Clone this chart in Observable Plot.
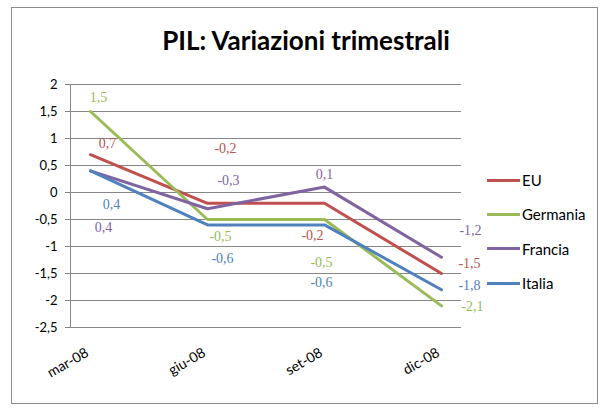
<!DOCTYPE html>
<html><head><meta charset="utf-8">
<script src="https://cdn.jsdelivr.net/npm/d3@7"></script>
<script src="https://cdn.jsdelivr.net/npm/@observablehq/plot@0.6"></script>
<style>
body{margin:0;background:#fff;}
#wrap{position:relative;width:605px;height:410px;overflow:hidden;background:#fff;}
#frame{position:absolute;left:11px;top:7px;width:587px;height:397px;border:1px solid #8c8c8c;box-sizing:border-box;}
#title{position:absolute;left:0;width:612px;top:24px;line-height:36px;text-align:center;font:bold 26px Lato,sans-serif;color:#000;}
#legend{position:absolute;left:487px;top:163px;}
.item{display:flex;align-items:center;height:34.3px;font:15px Lato,sans-serif;color:#000;}
.sw{width:33px;height:3px;margin-right:2px;}
#chart{position:absolute;left:0;top:0;}
</style></head>
<body>
<div id="wrap">
  <div id="frame"></div>
  <div id="chart"></div>
  <div id="title">PIL: Variazioni trimestrali</div>
  <div id="legend"></div>
</div>
<script>
// ---- data ----
const quarters = ["mar-08", "giu-08", "set-08", "dic-08"];
const seriesNames = ["EU", "Germania", "Francia", "Italia"];
const eu       = [0.7, -0.2, -0.2, -1.5];
const germania = [1.5, -0.5, -0.5, -2.1];
const francia  = [0.4, -0.3,  0.1, -1.2];
const italia   = [0.4, -0.6, -0.6, -1.8];
const yTicks = [2, 1.5, 1, 0.5, 0, -0.5, -1, -1.5, -2, -2.5];

// ---- style ----
const colors = ["#C0504D", "#9BBB59", "#8064A2", "#4F81BD"];
// data-label offsets in pixels (label placement style), per series, per quarter
const labelOffsets = [
  [[17, -11], [18, -55], [-12, 32], [28, -10]],
  [[8, -14], [13, 17], [-3, 43], [31, 1]],
  [[13, 57], [21, -28], [0, -13], [29, -27]],
  [[21, 34], [15, 34], [-3, 58], [28, -4]]
];

const values = [eu, germania, francia, italia];
const rows = [];
seriesNames.forEach((s, i) => quarters.forEach((q, j) => rows.push({s, q, v: values[i][j], i, j})));
const fmt = d => String(d).replace(".", ",");

const labelMarks = rows.map(r => Plot.text([r], {
  x: "q", y: "v", text: d => fmt(d.v),
  dx: labelOffsets[r.i][r.j][0], dy: labelOffsets[r.i][r.j][1],
  fill: colors[r.i], fontSize: 14, fontFamily: "Liberation Serif"
}));

const chart = Plot.plot({
  width: 605, height: 410,
  marginTop: 84, marginBottom: 83, marginLeft: 70, marginRight: 144,
  style: {fontFamily: "Lato, sans-serif", background: "transparent"},
  x: {type: "point", domain: quarters, padding: 0.167, label: null, axis: null},
  y: {domain: [-2.5, 2], label: null},
  color: {domain: seriesNames, range: colors},
  marks: [
    Plot.gridY(yTicks, {stroke: "#868686", strokeOpacity: 1}),
    Plot.frame({anchor: "left", stroke: "#868686"}),
    Plot.axisY(yTicks, {tickFormat: fmt, tickSize: 5, tickPadding: 8, fontSize: 13, stroke: "#868686", fill: "#000", label: null}),
    Plot.text(quarters, {x: d => d, frameAnchor: "bottom", dy: 28, dx: -1, rotate: -30, textAnchor: "end", fontSize: 14, fill: "#000"}),
    Plot.line(rows, {x: "q", y: "v", z: "s", stroke: "s", strokeWidth: 3}),
    ...labelMarks
  ]
});
document.getElementById("chart").appendChild(chart);

const legend = document.getElementById("legend");
seriesNames.forEach((s, i) => {
  const it = document.createElement("div");
  it.className = "item";
  it.innerHTML = `<div class="sw" style="background:${colors[i]}"></div><span>${s}</span>`;
  legend.appendChild(it);
});
</script>
</body></html>
